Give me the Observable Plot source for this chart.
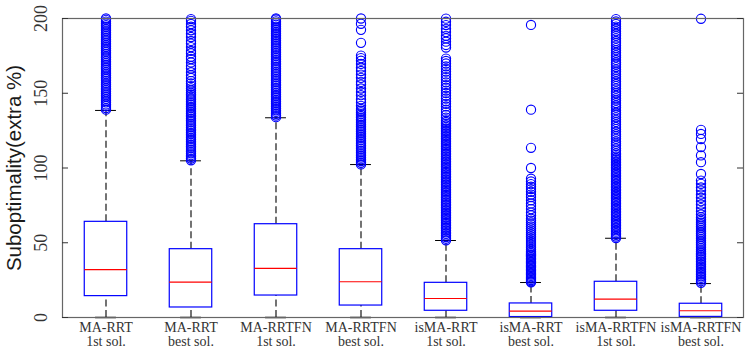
<!DOCTYPE html>
<html>
<head>
<meta charset="utf-8">
<script src="https://cdn.jsdelivr.net/npm/d3@7"></script>
<script src="https://cdn.jsdelivr.net/npm/@observablehq/plot@0.6"></script>
<style>
  html, body { margin: 0; padding: 0; background: #fff; }
  #chart { width: 748px; height: 354px; }
</style>
</head>
<body>
<div id="chart"></div>
<script>
// ---- data ----
const methods = ["MA-RRT", "MA-RRT", "MA-RRTFN", "MA-RRTFN", "isMA-RRT", "isMA-RRT", "isMA-RRTFN", "isMA-RRTFN"];
const solutions = ["1st sol.", "best sol.", "1st sol.", "best sol.", "1st sol.", "best sol.", "1st sol.", "best sol."];
const q1 = [14.3, 6.7, 14.7, 8.0, 4.5, 0.3, 4.5, 0.4];
const median = [32.0, 23.6, 32.8, 23.9, 12.7, 4.2, 12.3, 4.5];
const q3 = [64.0, 45.7, 62.4, 45.7, 23.2, 9.4, 23.9, 9.2];
const whiskerLow = [0, 0, 0, 0, 0, 0, 0, 0];
const whiskerHigh = [138.5, 104.8, 133.6, 102.3, 51.5, 23.4, 53.0, 22.7];
const yTicks = [0, 50, 100, 150, 200];

const outliers1 = [139.0, 140.1, 141.4, 142.5, 143.9, 145.0, 146.2, 147.5, 148.6, 149.8, 151.1, 152.3, 153.4, 154.7, 155.9, 157.0, 158.3, 159.5, 160.6, 161.9, 163.1, 164.2, 165.5, 166.7, 167.8, 169.1, 170.3, 171.4, 172.7, 173.9, 175.0, 176.3, 177.5, 178.6, 179.9, 181.1, 182.2, 183.5, 184.7, 185.8, 187.1, 188.3, 189.4, 190.7, 191.9, 193.0, 194.3, 195.5, 196.6, 197.9, 199.1, 200.0];
const outliers2 = [105.2, 106.3, 107.5, 108.6, 109.8, 111.0, 112.1, 113.3, 114.4, 115.6, 116.8, 117.9, 119.1, 120.2, 121.4, 122.6, 123.7, 124.9, 126.0, 127.2, 128.4, 129.5, 130.7, 131.8, 133.0, 134.2, 135.3, 136.5, 137.6, 138.8, 140.0, 141.1, 142.3, 143.4, 144.6, 145.8, 146.9, 148.1, 149.2, 150.4, 151.9, 153.3, 154.8, 156.6, 158.1, 160.2, 162.0, 164.1, 166.5, 168.2, 170.6, 172.9, 174.4, 176.8, 178.3, 180.9, 183.2, 185.0, 187.6, 189.8, 192.1, 194.5, 196.3, 198.4, 199.6];
const outliers3 = [134.0, 135.1, 136.3, 137.5, 138.6, 139.8, 141.0, 142.1, 143.3, 144.5, 145.6, 146.8, 148.0, 149.1, 150.3, 151.5, 152.6, 153.8, 155.0, 156.1, 157.3, 158.5, 159.6, 160.8, 162.0, 163.1, 164.3, 165.5, 166.6, 167.8, 169.0, 170.1, 171.3, 172.5, 173.6, 174.8, 176.0, 177.1, 178.3, 179.5, 180.6, 181.8, 183.0, 184.1, 185.3, 186.5, 187.6, 188.8, 190.0, 191.1, 192.3, 193.5, 194.6, 195.8, 197.0, 198.1, 199.3, 200.0];
const outliers4 = [102.4, 103.5, 104.7, 105.8, 107.0, 108.2, 109.3, 110.5, 111.6, 112.8, 114.0, 115.1, 116.3, 117.4, 118.6, 119.8, 120.9, 122.1, 123.2, 124.4, 125.6, 126.7, 127.9, 129.0, 130.2, 131.4, 132.5, 133.7, 134.8, 136.0, 137.2, 138.3, 139.5, 141.6, 143.9, 146.0, 148.7, 150.9, 153.2, 155.8, 157.6, 160.3, 162.5, 164.9, 167.1, 169.6, 171.8, 173.5, 175.2, 183.7, 192.4, 196.5, 200.0];
const outliers5 = [51.6, 52.7, 53.8, 54.9, 56.0, 57.1, 58.2, 59.3, 60.4, 61.5, 62.6, 63.7, 64.8, 65.9, 67.0, 68.1, 69.2, 70.3, 71.4, 72.5, 73.6, 74.7, 75.8, 76.9, 78.0, 79.1, 80.2, 81.3, 82.4, 83.5, 84.6, 85.7, 86.8, 87.9, 89.0, 90.1, 91.2, 92.3, 93.4, 94.5, 95.6, 96.7, 97.8, 98.9, 100.0, 101.1, 102.2, 103.3, 104.4, 105.5, 106.6, 107.7, 108.8, 109.9, 111.0, 112.1, 113.2, 114.3, 115.4, 116.5, 117.6, 118.7, 119.8, 120.9, 122.0, 123.1, 124.2, 125.3, 126.4, 127.5, 128.6, 129.7, 130.8, 131.9, 133.7, 135.5, 137.4, 139.0, 141.2, 142.9, 144.6, 146.5, 148.3, 150.2, 151.8, 153.7, 155.4, 157.3, 159.1, 160.8, 162.6, 164.5, 166.3, 168.0, 169.9, 171.6, 173.2, 180.6, 182.3, 184.5, 186.7, 188.4, 190.9, 193.1, 195.6, 197.8, 199.9];
const outliers6 = [195.7, 139.0, 113.5, 100.0, 92.8, 91.0, 89.2, 87.5, 85.9, 84.1, 82.2, 80.6, 78.4, 76.3, 74.6, 72.5, 70.2, 68.3, 66.1, 64.8, 63.5, 62.2, 60.9, 59.6, 58.3, 57.0, 55.7, 54.4, 53.1, 51.8, 50.5, 49.2, 47.9, 46.6, 45.3, 44.0, 43.1, 42.2, 41.3, 40.4, 39.5, 38.6, 37.7, 36.8, 35.9, 35.0, 34.1, 33.2, 32.3, 31.4, 30.5, 29.6, 28.7, 27.8, 26.9, 26.0, 25.1, 24.2, 23.6];
const outliers7 = [53.2, 54.2, 55.3, 56.3, 57.4, 58.4, 59.5, 60.5, 61.6, 62.6, 63.7, 64.7, 65.8, 66.8, 67.9, 68.9, 70.0, 71.0, 72.1, 73.1, 74.2, 75.2, 76.3, 77.3, 78.4, 79.4, 80.5, 81.5, 82.6, 83.6, 84.7, 85.7, 86.8, 87.8, 88.9, 89.9, 91.0, 92.0, 93.1, 94.1, 95.2, 96.2, 97.3, 98.3, 99.4, 100.4, 101.5, 102.5, 103.6, 104.6, 105.7, 106.7, 107.8, 108.8, 109.9, 111.5, 113.0, 114.8, 116.3, 117.7, 119.5, 121.2, 122.6, 124.3, 126.0, 127.4, 129.1, 130.8, 132.2, 133.9, 135.6, 137.0, 138.7, 140.4, 141.8, 143.5, 145.2, 146.6, 148.3, 150.0, 151.4, 153.1, 154.8, 156.2, 157.9, 159.6, 161.0, 162.7, 164.4, 165.8, 167.5, 169.2, 170.6, 172.3, 174.0, 175.4, 177.1, 178.8, 180.2, 181.9, 183.6, 185.0, 186.7, 188.4, 189.8, 191.5, 193.2, 194.6, 196.3, 198.0, 199.6];
const outliers8 = [199.8, 125.5, 122.8, 119.4, 114.0, 108.4, 103.9, 96.0, 91.6, 89.4, 87.0, 84.9, 82.3, 80.1, 77.8, 75.6, 73.2, 71.0, 68.9, 67.0, 65.8, 64.6, 63.4, 62.2, 61.0, 59.8, 58.6, 57.4, 56.2, 55.0, 53.8, 52.6, 51.4, 50.2, 49.0, 47.8, 46.6, 45.4, 44.2, 43.0, 41.9, 40.8, 39.7, 38.6, 37.5, 36.4, 35.3, 34.2, 33.1, 32.0, 30.9, 29.8, 28.7, 27.6, 26.5, 25.4, 24.3, 23.2];
const outlierLists = [outliers1, outliers2, outliers3, outliers4, outliers5, outliers6, outliers7, outliers8];
const yTitle = "Suboptimality(extra %)";

// ---- build tables ----
const cats = methods.map((m, i) => m + "\n" + solutions[i]);
const boxes = cats.map((c, i) => ({c, q1: q1[i], med: median[i], q3: q3[i], lo: whiskerLow[i], hi: whiskerHigh[i]}));
const outs = outlierLists.flatMap((arr, i) => arr.map(v => ({c: cats[i], v})));

const W = 748, H = 354, mL = 62, mR = 5, mT = 18, mB = 37;
const plotW = W - mL - mR;
const bandW = plotW / cats.length;
const boxInset = (bandW - 42.6) / 2;
const capInset = (bandW - 21) / 2;
const serif = "'Liberation Serif', 'Times New Roman', serif";
const blue = "#0000ff";

const chart = Plot.plot({
  width: W, height: H,
  marginLeft: mL, marginRight: mR, marginTop: mT, marginBottom: mB,
  x: {domain: cats, padding: 0, axis: null},
  y: {domain: [0, 200], axis: null},
  style: {background: "white", overflow: "visible"},
  marks: [
    // whiskers
    Plot.ruleX(boxes, {x: "c", y1: "q3", y2: "hi", stroke: "#000", strokeWidth: 1.1, strokeDasharray: "7,3.5"}),
    Plot.ruleX(boxes, {x: "c", y1: "lo", y2: "q1", stroke: "#000", strokeWidth: 1.1, strokeDasharray: "7,3.5"}),
    Plot.tickY(boxes, {x: "c", y: "hi", stroke: "#000", strokeWidth: 1, insetLeft: capInset, insetRight: capInset}),
    Plot.tickY(boxes, {x: "c", y: "lo", stroke: "#000", strokeWidth: 1.5, insetLeft: capInset, insetRight: capInset}),
    // boxes
    Plot.barY(boxes, {x: "c", y1: "q1", y2: "q3", fill: "white", stroke: blue, strokeWidth: 1.2, insetLeft: boxInset, insetRight: boxInset}),
    Plot.tickY(boxes, {x: "c", y: "med", stroke: "#ff0000", strokeWidth: 1.2, insetLeft: boxInset, insetRight: boxInset}),
    // outliers
    Plot.dot(outs, {x: "c", y: "v", r: 4.6, stroke: blue, strokeWidth: 1.15, fill: "none"}),
    // frame and ticks
    Plot.frame({stroke: "#666", strokeWidth: 1.2}),
    Plot.ruleY(yTicks, {y: d => d, stroke: "#333", insetRight: plotW - 6}),
    Plot.ruleY(yTicks, {y: d => d, stroke: "#333", insetLeft: plotW - 6}),
    // y tick labels
    Plot.text(yTicks, {y: d => d, text: d => String(d), frameAnchor: "left", dx: -21, rotate: -90,
      textAnchor: "middle", lineAnchor: "middle",
      fontFamily: serif, fontSize: 18, fill: "#333"}),
    // y title
    Plot.text([yTitle], {text: d => d, frameAnchor: "left", dx: -48, rotate: -90,
      textAnchor: "middle", lineAnchor: "middle",
      fontFamily: "'Liberation Sans', Arial, sans-serif", fontSize: 20.5, fill: "#1a1a1a"}),
    // x labels
    Plot.text(boxes, {x: "c", text: "c", frameAnchor: "bottom", lineAnchor: "top", dy: 5,
      fontFamily: serif, fontSize: 14, lineHeight: 1, fill: "#333"})
  ]
});
document.getElementById("chart").appendChild(chart);
</script>
</body>
</html>
